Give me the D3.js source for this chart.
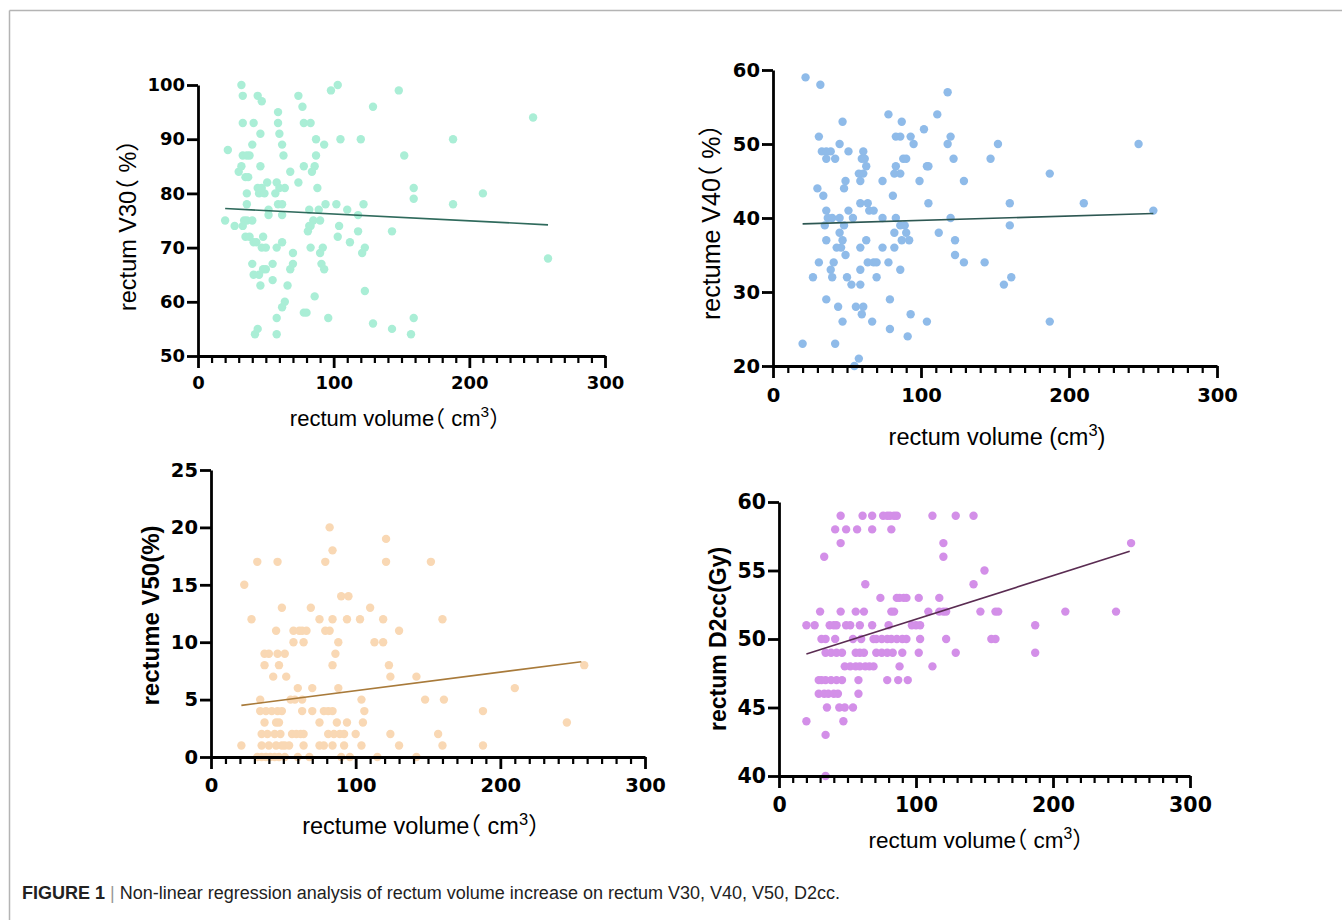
<!DOCTYPE html>
<html>
<head>
<meta charset="utf-8">
<script src="https://cdn.jsdelivr.net/npm/d3@7"></script>
<style>
  body { margin: 0; background: #fff; }
  svg { display: block; }
  .tick text { font-family: "DejaVu Sans", sans-serif; font-weight: bold; fill: #000; }
  .title { font-family: "Liberation Sans", "Noto Sans CJK SC", Arial, sans-serif; font-feature-settings: "halt" 1; }
</style>
</head>
<body>
<svg id="chart" width="1342" height="920"></svg>
<script>
// shared x axis ticks (rectum volume, cm3)
const xTicks = [0, 100, 200, 300];
const xMinorTicks = d3.range(10, 300, 10).filter(d => d % 100 !== 0);

// rectum V30 (%) vs volume
const v30Ticks = [50, 60, 70, 80, 90, 100];
const v30Points = [
  [32,100],[33,98],[44,98],[47,97],[74,98],[77,96],[98,99],[103,100],[148,99],[129,96],[247,94],
  [33,93],[41,93],[59,95],[59,93],[78,93],[83,93],[46,91],[60,91],[22,88],[40,89],[62,89],[87,90],
  [93,89],[105,90],[120,90],[188,90],[152,87],[33,87],[36,87],[38,87],[63,87],[87,87],
  [30,84],[32,85],[35,83],[37,83],[46,85],[68,84],[78,85],[84,84],[86,85],[74,82],[51,82],[58,82],[88,81],
  [36,80],[44,81],[47,81],[45,80],[49,80],[57,80],[60,81],[64,81],[159,81],[159,79],[210,80],[188,78],
  [36,78],[59,78],[62,78],[94,78],[102,78],[122,78],[82,77],[89,77],[110,77],[52,77],
  [20,75],[27,74],[34,75],[36,75],[40,75],[33,74],[62,76],[52,76],[118,76],[85,75],[90,75],[82,74],
  [83,74],[104,74],[81,73],[118,73],[143,73],[35,72],[38,72],[48,72],[103,72],[112,71],[41,71],[43,71],
  [47,70],[50,70],[62,71],[58,70],[83,70],[92,70],[90,69],[123,70],[121,69],[70,69],[258,68],
  [40,67],[55,67],[70,67],[91,67],[68,66],[93,66],[41,65],[45,65],[48,66],[50,66],[46,63],[66,63],
  [55,64],[86,61],[123,62],[62,59],[64,60],[58,57],[96,57],[78,58],[80,58],[129,56],[143,55],[159,57],
  [157,54],[42,54],[44,55],[58,54]
];
const v30Fit = [[20, 77.2], [258, 74.2]];

// rectume V40 (%) vs volume
const v40Ticks = [20, 30, 40, 50, 60];
const v40Points = [
  [22,59],[32,58],[118,57],[78,54],[111,54],[47,53],[87,53],[102,52],[31,51],[83,51],[86,51],[93,51],
  [120,51],[45,50],[95,50],[118,50],[152,50],[247,50],[33,49],[36,49],[39,49],[51,49],[61,49],
  [36,48],[42,48],[60,48],[62,48],[88,48],[90,48],[122,48],[147,48],[63,47],[83,47],[104,47],[105,47],
  [58,46],[61,46],[82,46],[86,46],[187,46],[30,44],[48,44],[49,45],[59,45],[74,45],[99,45],[129,45],
  [34,43],[81,43],[59,42],[64,42],[105,42],[160,42],[210,42],[36,41],[51,41],[65,41],[68,41],[257,41],
  [37,40],[40,40],[45,40],[54,40],[74,40],[83,40],[120,40],[35,39],[48,39],[86,39],[89,39],[160,39],
  [45,38],[82,38],[90,38],[112,38],[36,37],[47,37],[63,37],[87,37],[92,37],[123,37],
  [43,36],[46,36],[59,36],[74,36],[82,36],[49,35],[123,35],
  [31,34],[41,34],[64,34],[68,34],[70,34],[78,34],[129,34],[143,34],[39,33],[59,33],[86,33],
  [27,32],[40,32],[50,32],[70,32],[161,32],[53,31],[59,31],[156,31],[36,29],[79,29],
  [44,28],[56,28],[61,28],[60,27],[93,27],[47,26],[67,26],[104,26],[187,26],[79,25],[91,24],
  [20,23],[42,23],[58,21],[55,20]
];
const v40Fit = [[20, 39.2], [257, 40.6]];

// rectume V50 (%) vs volume
const v50Ticks = [0, 5, 10, 15, 20, 25];
const v50Points = [
  [82,20],[121,19],[84,18],[32,17],[46,17],[79,17],[121,17],[152,17],[23,15],[90,14],[95,14],
  [49,13],[69,13],[110,13],[28,12],[75,12],[84,12],[94,12],[103,12],[119,12],[160,12],
  [45,11],[57,11],[61,11],[63,11],[66,11],[79,11],[82,11],[130,11],[57,10],[64,10],[88,10],[113,10],[119,10],
  [37,9],[40,9],[46,9],[51,9],[86,9],[37,8],[47,8],[84,8],[123,8],[258,8],[43,7],[52,7],[124,7],[142,7],
  [60,6],[70,6],[88,6],[210,6],[34,5],[55,5],[58,5],[63,5],[104,5],[148,5],[161,5],
  [34,4],[38,4],[42,4],[46,4],[49,4],[63,4],[70,4],[78,4],[81,4],[84,4],[106,4],[188,4],
  [37,3],[45,3],[47,3],[75,3],[87,3],[94,3],[105,3],[246,3],
  [35,2],[39,2],[44,2],[48,2],[56,2],[59,2],[62,2],[64,2],[81,2],[85,2],[89,2],[92,2],[100,2],[124,2],[157,2],
  [21,1],[35,1],[40,1],[45,1],[49,1],[51,1],[54,1],[64,1],[75,1],[78,1],[84,1],[92,1],[104,1],[130,1],[160,1],[188,1],
  [32,0],[35,0],[38,0],[41,0],[44,0],[47,0],[51,0],[60,0],[68,0],[90,0],[96,0],[115,0],[142,0]
];
const v50Fit = [[21, 4.5], [256, 8.3]];

// rectum D2cc (Gy) vs volume
const d2ccTicks = [40, 45, 50, 55, 60];
const d2ccPoints = [
  [45,59],[61,59],[68,59],[76,59],[79,59],[81,59],[84,59],[86,59],[112,59],[129,59],[142,59],
  [41,58],[49,58],[57,58],[68,58],[82,58],[45,57],[120,57],[257,57],[33,56],[120,56],[150,55],[63,54],[142,54],
  [74,53],[86,53],[88,53],[91,53],[93,53],[102,53],[117,53],
  [30,52],[45,52],[56,52],[62,52],[82,52],[84,52],[109,52],[117,52],[120,52],[122,52],[147,52],[158,52],[160,52],[209,52],[246,52],
  [20,51],[26,51],[37,51],[40,51],[42,51],[49,51],[52,51],[59,51],[68,51],[80,51],[97,51],[100,51],[103,51],[187,51],
  [31,50],[34,50],[41,50],[54,50],[60,50],[69,50],[71,50],[75,50],[79,50],[82,50],[86,50],[90,50],[93,50],[103,50],[122,50],[155,50],[158,50],
  [34,49],[38,49],[42,49],[46,49],[56,49],[59,49],[62,49],[71,49],[75,49],[79,49],[83,49],[90,49],[102,49],[129,49],[187,49],
  [48,48],[52,48],[56,48],[59,48],[63,48],[66,48],[69,48],[88,48],[112,48],
  [29,47],[31,47],[34,47],[38,47],[42,47],[46,47],[58,47],[79,47],[87,47],[94,47],
  [29,46],[33,46],[36,46],[40,46],[43,46],[58,46],[35,45],[44,45],[48,45],[54,45],
  [20,44],[47,44],[34,43],[34,40]
];
const d2ccFit = [[20, 48.9], [256, 56.4]];

const svg = d3.select("#chart");

// thin grey frame of the figure
svg.append("line").attr("x1", 9.5).attr("y1", 10.5).attr("x2", 1342).attr("y2", 10.5)
  .attr("stroke", "#b4b4b4").attr("stroke-width", 1.5);
svg.append("line").attr("x1", 9.5).attr("y1", 10.5).attr("x2", 9.5).attr("y2", 920)
  .attr("stroke", "#b4b4b4").attr("stroke-width", 1.5);

function drawPanel(p) {
  const x = d3.scaleLinear().domain([0, 300]).range([p.left, p.right]);
  const y = d3.scaleLinear().domain(p.yDomain).range([p.bottom, p.top]);
  const g = svg.append("g");

  // points
  g.selectAll("circle").data(p.points).enter().append("circle")
    .attr("cx", d => x(d[0]))
    .attr("cy", d => y(d[1]))
    .attr("r", 4.2)
    .attr("fill", p.dotColor);

  // regression line
  g.append("path").datum(p.fit)
    .attr("d", d3.line().x(d => x(d[0])).y(d => y(d[1])))
    .attr("fill", "none")
    .attr("stroke", p.lineColor)
    .attr("stroke-width", 1.6);

  // minor x ticks
  const minor = g.append("g").attr("transform", "translate(0," + p.bottom + ")")
    .call(d3.axisBottom(x).tickValues(xMinorTicks).tickSize(7).tickFormat(""));
  minor.select(".domain").remove();
  minor.selectAll("line").attr("stroke", "#000").attr("stroke-width", 2.2);

  // major x axis
  const xa = g.append("g").attr("transform", "translate(0," + p.bottom + ")")
    .call(d3.axisBottom(x).tickValues(xTicks).tickSize(12).tickSizeOuter(0).tickPadding(p.xPad));
  xa.select(".domain").attr("stroke", "#000").attr("stroke-width", 2.8);
  xa.selectAll(".tick line").attr("stroke", "#000").attr("stroke-width", 2.8);
  xa.selectAll(".tick text").style("font-size", p.tickFont + "px");

  // y axis
  const ya = g.append("g").attr("transform", "translate(" + p.left + ",0)")
    .call(d3.axisLeft(y).tickValues(p.yTicks).tickSize(11).tickSizeOuter(0).tickPadding(2));
  ya.select(".domain").attr("stroke", "#000").attr("stroke-width", 2.8);
  ya.selectAll(".tick line").attr("stroke", "#000").attr("stroke-width", 2.8);
  ya.selectAll(".tick text").style("font-size", p.tickFont + "px");

  // y title
  g.append("text").attr("class", "title")
    .attr("transform", "translate(" + p.yTitleX + "," + ((p.top + p.bottom) / 2 + p.yTitleShift) + ") rotate(-90)")
    .attr("text-anchor", "middle")
    .attr("dy", "0.35em")
    .style("font-size", p.yTitleSize + "px")
    .style("font-weight", p.yTitleBold ? "bold" : "normal")
    .text(p.yTitle);

  // x title, "3" raised as superscript
  const xt = g.append("text").attr("class", "title")
    .attr("x", p.xTitleX)
    .attr("y", p.xTitleY)
    .attr("text-anchor", "middle")
    .style("font-size", p.xTitleSize + "px");
  xt.append("tspan").text(p.xTitle[0]);
  xt.append("tspan").attr("dy", -p.xTitleSize * 0.4).style("font-size", (p.xTitleSize * 0.7) + "px").text("3");
  xt.append("tspan").attr("dy", p.xTitleSize * 0.4).text(p.xTitle[1]);
}

drawPanel({
  points: v30Points, fit: v30Fit, yDomain: [50, 100], yTicks: v30Ticks,
  left: 198, right: 605, top: 85, bottom: 356, xPad: 8, tickFont: 18,
  dotColor: "#aaeed6", lineColor: "#2f6a5c",
  yTitle: "rectum V30（ %）", yTitleX: 128, yTitleShift: 5, yTitleSize: 23.5, yTitleBold: false,
  xTitle: ["rectum volume（ cm", "）"], xTitleX: 395, xTitleY: 426, xTitleSize: 22
});

drawPanel({
  points: v40Points, fit: v40Fit, yDomain: [20, 60], yTicks: v40Ticks,
  left: 773, right: 1217, top: 70, bottom: 366, xPad: 10, tickFont: 19.5,
  dotColor: "#8fbbe9", lineColor: "#2d5752",
  yTitle: "rectume V40（ %）", yTitleX: 711, yTitleShift: 4, yTitleSize: 25, yTitleBold: false,
  xTitle: ["rectum volume (cm", ")"], xTitleX: 997, xTitleY: 445, xTitleSize: 23.5
});

drawPanel({
  points: v50Points, fit: v50Fit, yDomain: [0, 25], yTicks: v50Ticks,
  left: 211, right: 645, top: 470, bottom: 757, xPad: 9, tickFont: 19.5,
  dotColor: "#f9d8b4", lineColor: "#a87a3a",
  yTitle: "rectume V50(%)", yTitleX: 151, yTitleShift: 2, yTitleSize: 24, yTitleBold: true,
  xTitle: ["rectume volume（ cm", "）"], xTitleX: 421, xTitleY: 834, xTitleSize: 23.5
});

drawPanel({
  points: d2ccPoints, fit: d2ccFit, yDomain: [40, 60], yTicks: d2ccTicks,
  left: 779, right: 1190, top: 502, bottom: 776, xPad: 9, tickFont: 20.5,
  dotColor: "#d38fe8", lineColor: "#5a2c52",
  yTitle: "rectum D2cc(Gy)", yTitleX: 718, yTitleShift: 0, yTitleSize: 23, yTitleBold: true,
  xTitle: ["rectum volume（ cm", "）"], xTitleX: 976, xTitleY: 848, xTitleSize: 22.5
});

// caption
const cap = svg.append("text").attr("x", 22).attr("y", 899)
  .style("font-family", '"Liberation Sans", Arial, sans-serif').style("font-size", "18px").attr("fill", "#222");
cap.append("tspan").style("font-weight", "bold").text("FIGURE 1");
cap.append("tspan").attr("fill", "#999").text(" | ");
cap.append("tspan").text("Non-linear regression analysis of rectum volume increase on rectum V30, V40, V50, D2cc.");
</script>
</body>
</html>
